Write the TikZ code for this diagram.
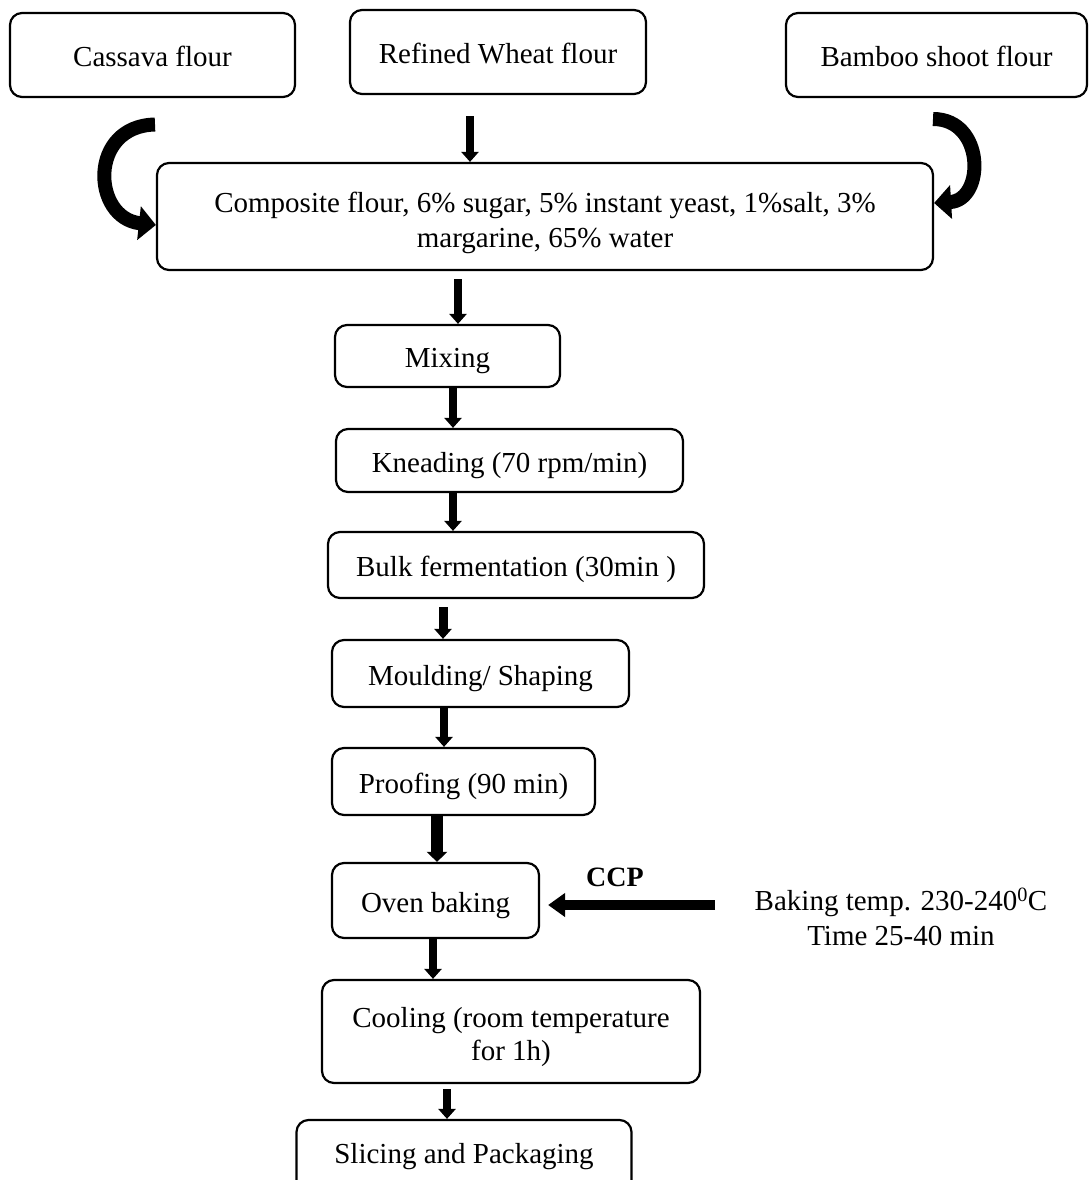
\documentclass[tikz,border=0pt]{standalone}
\usepackage{fontspec}
\setmainfont{Liberation Serif}
\usetikzlibrary{arrows.meta}

\tikzset{
    stepbox/.style={draw, line width=2.2pt, rounded corners=12pt, inner sep=0pt,
        font=\fontsize{29}{35}\selectfont, text height=23pt, text depth=0pt},
    tallbox/.style={draw, line width=2.2pt, rounded corners=12pt, inner sep=0pt,
        font=\fontsize{29}{35}\selectfont, align=center},
    flow/.style={line width=7.5pt, -{Triangle[length=10pt,width=17pt]}},
    bendflow/.style={line width=14pt, -{Triangle[length=17pt,width=33pt]}},
}

\begin{document}
\begin{tikzpicture}[x=1pt, y=-1pt]
    \clip (0,0) rectangle (1088,1180);

    % Define the positions of the boxes
    \coordinate (cassPos) at (152.5,55);
    \coordinate (wheatPos) at (498,52);
    \coordinate (bambooPos) at (936.5,55);
    \coordinate (compPos) at (545,216.5);
    \coordinate (mixPos) at (447.5,356);
    \coordinate (kneadPos) at (509.5,460.5);
    \coordinate (bulkPos) at (516,565);
    \coordinate (mouldPos) at (480.5,673.5);
    \coordinate (proofPos) at (463.5,781.5);
    \coordinate (ovenPos) at (435.5,900.5);
    \coordinate (coolPos) at (511,1031.5);
    \coordinate (slicePos) at (464,1160);

    % Draw the boxes
    \node[stepbox, minimum width=285pt, minimum height=84pt] (cass) at (cassPos) {Cassava flour};
    \node[stepbox, minimum width=296pt, minimum height=84pt] (wheat) at (wheatPos) {Refined Wheat flour};
    \node[stepbox, minimum width=301pt, minimum height=84pt] (bamboo) at (bambooPos) {Bamboo shoot flour};
    \node[tallbox, minimum width=776pt, minimum height=107pt] (comp) at (compPos)
        {\rule{0pt}{34pt}Composite flour, 6\% sugar, 5\% instant yeast, 1\%salt, 3\%\\ margarine, 65\% water};
    \node[stepbox, minimum width=225pt, minimum height=62pt] (mix) at (mixPos) {Mixing};
    \node[stepbox, minimum width=347pt, minimum height=63pt] (knead) at (kneadPos) {Kneading (70 rpm/min)};
    \node[stepbox, minimum width=376pt, minimum height=66pt] (bulk) at (bulkPos) {Bulk fermentation (30min )};
    \node[stepbox, minimum width=297pt, minimum height=67pt] (mould) at (mouldPos) {Moulding/ Shaping};
    \node[stepbox, minimum width=263pt, minimum height=67pt] (proof) at (proofPos) {Proofing (90 min)};
    \node[stepbox, minimum width=207pt, minimum height=75pt] (oven) at (ovenPos) {Oven baking};
    \node[tallbox, minimum width=378pt, minimum height=103pt, font=\fontsize{29}{33}\selectfont] (cool) at (coolPos)
        {\rule{0pt}{32pt}Cooling (room temperature\\ for 1h)};
    \node[stepbox, minimum width=335pt, minimum height=80pt, text height=6pt] (slice) at (slicePos) {Slicing and Packaging};

    % Critical control point
    \node[font=\fontsize{29}{35}\selectfont, align=center] (bake) at (901,917)
        {Baking temp. 230-240\textsuperscript{0}C\\ Time 25-40 min};
    \node[font=\fontsize{28}{34}\selectfont\bfseries] (ccp) at (615,877) {CCP};
    \coordinate (ccpTail) at (715,905);
    \draw[line width=10pt, -{Triangle[length=17pt,width=23pt]}] (ccpTail) -- ([shift={(8pt,-4.5pt)}]oven.east);

    % Side flours bending in
    \coordinate (cassOut) at (155,124.5);
    \coordinate (bambooOut) at (933,119);
    \draw[bendflow] (cassOut) .. controls (88,126) and (92,218) .. ([yshift=-8.5pt]comp.west);
    \draw[bendflow] (bambooOut) .. controls (985,119) and (985,200) .. ([yshift=13.5pt]comp.east);

    % Draw the flow arrows
    \draw[flow] ([xshift=-28pt,yshift=-21pt]wheat.south) -- ([xshift=-28pt]wheat.south |- comp.north);
    \draw[flow] ([xshift=-87pt,yshift=-8pt]comp.south) -- ([xshift=-87pt]comp.south |- mix.north);
    \draw[flow] ([xshift=5.5pt]mix.south) -- ([xshift=5.5pt]mix.south |- knead.north);
    \draw[flow] ([xshift=-56.5pt]knead.south) -- ([xshift=-56.5pt]knead.south |- bulk.north);
    \draw[flow, line width=9pt] ([xshift=-73pt,yshift=-8pt]bulk.south) -- ([xshift=-73pt]bulk.south |- mould.north);
    \draw[flow] ([xshift=-36.5pt]mould.south) -- ([xshift=-36.5pt]mould.south |- proof.north);
    \draw[flow, line width=12pt, -{Triangle[length=10pt,width=20pt]}] ([xshift=-26.5pt]proof.south) -- ([xshift=-26.5pt]proof.south |- oven.north);
    \draw[flow] ([xshift=-2.5pt]oven.south) -- ([xshift=-2.5pt]oven.south |- cool.north);
    \draw[flow] ([xshift=-64pt,yshift=-5pt]cool.south) -- ([xshift=-64pt]cool.south |- slice.north);
\end{tikzpicture}
\end{document}
